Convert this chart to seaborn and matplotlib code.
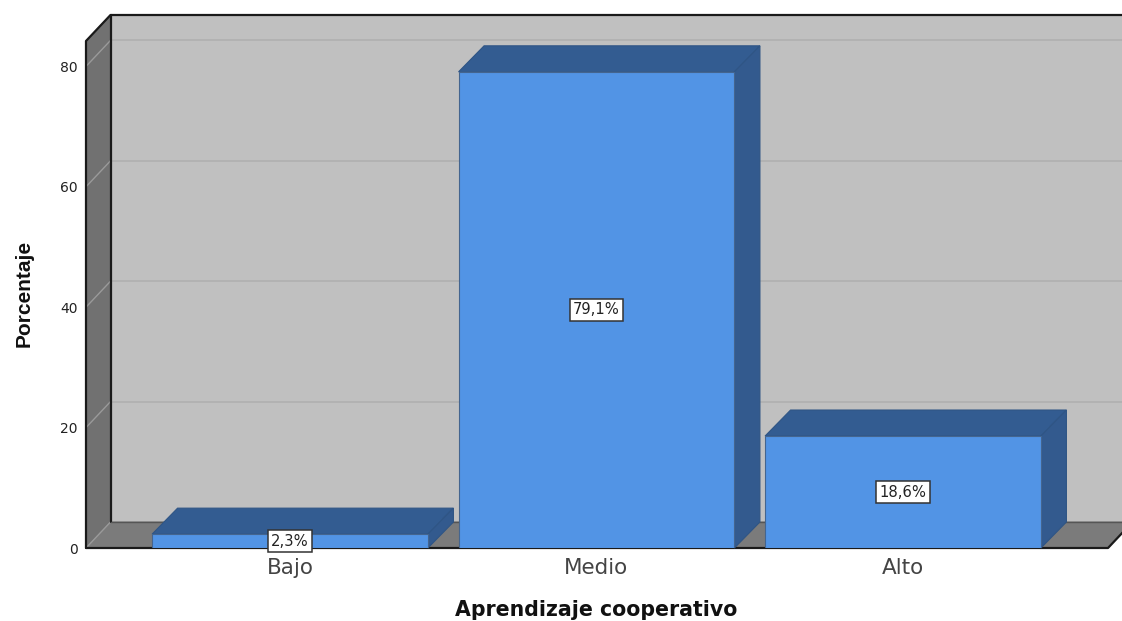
import matplotlib
matplotlib.use("Agg")
import matplotlib.pyplot as plt
from matplotlib.patches import Polygon
import pandas as pd
import seaborn as sns

# Values
categories = ["Bajo", "Medio", "Alto"]
percentages = [2.3, 79.1, 18.6]
bar_labels = ["2,3%", "79,1%", "18,6%"]
y_ticks = [0, 20, 40, 60, 80]

df = pd.DataFrame({"Nivel": categories, "Porcentaje": percentages})

W, H = 1122, 621
sns.set_style("white")
plt.rcParams["font.family"] = ["DejaVu Sans"]

fig = plt.figure(figsize=(W / 100, H / 100), dpi=100)
ax = fig.add_axes([86 / W, 73 / H, 1022 / W, 507 / H])

# Pixel scale of the front plane
x_px = 306.5
y_px = 6.02
xmin = -204 / x_px
xmax = xmin + 1022 / x_px
ymax = 507 / y_px
dx = 25.5 / x_px
dy = 26 / y_px
wall_dx = 24.5 / x_px


def face(points, color, edge=None, z=1, lw=0.8):
    ax.add_patch(Polygon(points, closed=True, facecolor=color, edgecolor=edge or color,
                         linewidth=lw, zorder=z, clip_on=False))


# Walls and floor
face([(xmin + wall_dx, dy), (xmax + wall_dx, dy), (xmax + wall_dx, ymax + dy), (xmin + wall_dx, ymax + dy)], "#c0c0c0", z=0.5)
face([(xmin, 0), (xmin + wall_dx, dy), (xmin + wall_dx, ymax + dy), (xmin, ymax)], "#717171", z=0.6)
face([(xmin, 0), (xmax, 0), (xmax + wall_dx, dy), (xmin + wall_dx, dy)], "#7b7b7b", z=0.6)

# Grid on back wall and side wall
for t in y_ticks[1:]:
    ax.plot([xmin + wall_dx, xmax + wall_dx], [t + dy, t + dy], color="#b0b0b0", lw=1.2, zorder=0.7, clip_on=False)
    ax.plot([xmin, xmin + wall_dx], [t, t + dy], color="#9a9a9a", lw=1, zorder=0.7, clip_on=False)
ax.plot([xmin, xmin + wall_dx], [0, dy], color="#9a9a9a", lw=1, zorder=0.7, clip_on=False)

# Dark frame lines
frame = "#1a1a1a"
ax.plot([xmin, xmin, xmin + wall_dx, xmax + wall_dx], [0, ymax, ymax + dy, ymax + dy], color=frame, lw=1.6, zorder=0.8, clip_on=False)
ax.plot([xmin + wall_dx, xmin + wall_dx], [dy, ymax + dy], color=frame, lw=1.6, zorder=0.8, clip_on=False)
ax.plot([xmin, xmax, xmax + wall_dx], [0, 0, dy], color=frame, lw=1.6, zorder=0.8, clip_on=False)
ax.plot([xmin + wall_dx, xmax + wall_dx], [dy, dy], color="#555555", lw=1, zorder=0.8, clip_on=False)

sns.barplot(data=df, x="Nivel", y="Porcentaje", color="#5294e5", saturation=1, width=0.9,
            edgecolor="#44658f", linewidth=0.8, ax=ax, zorder=3)

# Depth faces of the bars
for bar, label in zip(ax.containers[0], bar_labels):
    x0 = bar.get_x()
    x1 = x0 + bar.get_width()
    h = bar.get_height()
    face([(x0, h), (x1, h), (x1 + dx, h + dy), (x0 + dx, h + dy)], "#335c91", edge="#2f5585", z=2.5)
    face([(x1, 0), (x1 + dx, dy), (x1 + dx, h + dy), (x1, h)], "#335a8e", edge="#2f5585", z=2.5)
    ax.text(x0 + bar.get_width() / 2, h / 2, label, ha="center", va="center", fontsize=10.6,
            color="#222222", zorder=5,
            bbox=dict(boxstyle="square,pad=0.22", facecolor="white", edgecolor="#333333", linewidth=1.1))

ax.set_xlim(xmin, xmax)
ax.set_ylim(0, ymax)
ax.set_yticks(y_ticks)
ax.tick_params(axis="y", labelsize=10, length=0, pad=6, labelcolor="#222222")
ax.tick_params(axis="x", labelsize=15.5, length=0, pad=7, labelcolor="#444444")
ax.set_xlabel("Aprendizaje cooperativo", fontsize=14.8, fontweight="bold", color="#111111", va="center")
ax.xaxis.set_label_coords(510 / 1022, -62 / 507)
ax.set_ylabel("Porcentaje", fontsize=15, fontweight="bold", family="Liberation Sans", color="#111111", va="center")
ax.yaxis.set_label_coords(-62 / 1022, 255 / 507)
sns.despine(ax=ax, left=True, bottom=True)
ax.patch.set_alpha(0)

fig.savefig("out.png", dpi=100)
